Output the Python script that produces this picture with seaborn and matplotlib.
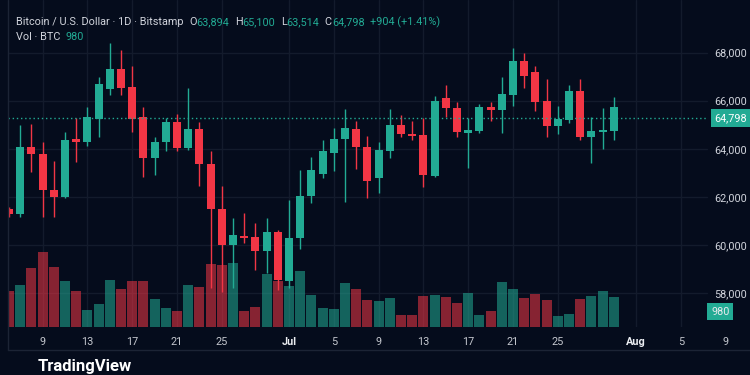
import numpy as np
import pandas as pd
import matplotlib.pyplot as plt
import matplotlib.transforms as mtransforms
from matplotlib.lines import Line2D
import seaborn as sns

sns.set_theme(style='dark')
plt.rcParams['font.family'] = ['Roboto', 'DejaVu Sans']

# daily candles, Bitstamp BTC/USD, 6 Jun - 30 Jul
dates = pd.date_range('2024-06-06', '2024-07-30', freq='D')
opens = [61497, 61289, 64075, 63784, 62287, 61996, 64407, 64283, 65239, 66486,
         67318, 66570, 65322, 63617, 64283, 65114, 64033, 64823, 63368, 61497,
         60000, 60374, 60332, 59750, 60540, 58503, 60291, 62037, 62952, 63825,
         64407, 64823, 64075, 62786, 63908, 64989, 64615, 64574, 62869, 66112,
         65696, 64657, 64740, 65738, 65613, 66237, 67651, 67193, 65987, 64948,
         65197, 66403, 64491, 64698, 64740]
highs = [61580, 64989, 65031, 64283, 63493, 64698, 65281, 65738, 66985, 68399,
         68108, 67443, 65738, 64491, 65281, 65447, 66528, 65114, 63908, 62453,
         61123, 61330, 60915, 61123, 60624, 61871, 63118, 63659, 64366, 64865,
         65655, 65156, 64532, 64283, 65655, 65405, 65156, 65281, 66195, 66653,
         65946, 65281, 65863, 65946, 66985, 68191, 67983, 67443, 66902, 65780,
         66653, 66902, 65322, 65696, 66154]
lows = [61164, 61164, 63035, 61164, 61164, 61954, 63451, 64116, 64491, 66237,
        66237, 64698, 62827, 62910, 63908, 63908, 63950, 62453, 58212, 58046,
        58212, 60083, 58960, 58836, 58129, 58212, 59834, 61746, 62786, 63077,
        61788, 63160, 61954, 62162, 63617, 64491, 64366, 62412, 62827, 65322,
        64491, 63202, 64657, 65156, 64657, 65780, 66528, 65572, 64491, 64615,
        65073, 64366, 63409, 63992, 64366]
closes = [61289, 64075, 63784, 62287, 61996, 64366, 64283, 65322, 66694, 67318,
          66528, 65239, 63617, 64283, 65114, 64033, 64823, 63368, 61497, 60000,
          60416, 60291, 59750, 60540, 58545, 60291, 62037, 63118, 63908, 64407,
          64865, 64075, 62661, 63950, 64989, 64615, 64532, 62910, 65987, 65696,
          64698, 64782, 65738, 65613, 66278, 67651, 67027, 65946, 64948, 65239,
          66403, 64491, 64740, 64782, 65738]
volumes = [1180, 1400, 1960, 2475, 1980, 1510, 1190, 575, 770, 1540,
           1255, 1510, 1510, 915, 615, 540, 1400, 1320, 2090, 2035,
           2110, 520, 650, 1760, 1520, 1365, 1840, 1045, 615, 605,
           1450, 1265, 880, 860, 970, 385, 385, 1015, 1045, 990,
           790, 1135, 410, 520, 1475, 1255, 970, 1100, 905, 375,
           420, 935, 1015, 1180, 980]

price_ticks = [58000, 60000, 62000, 64000, 66000, 68000]
tick_dates = ['2024-06-09', '2024-06-13', '2024-06-17', '2024-06-21', '2024-06-25',
              '2024-07-01', '2024-07-05', '2024-07-09', '2024-07-13', '2024-07-17',
              '2024-07-21', '2024-07-25', '2024-08-01', '2024-08-05', '2024-08-09']
price_line = 65280      # where the dotted last-price line is drawn
price_line_label = '64,798'
vol_label = '980'

header = [('Bitcoin / U.S. Dollar · 1D · Bitstamp', 'w', 0), ('O', 'w', 4), ('63,894', 'g', 0),
          ('H', 'w', 4), ('65,100', 'g', 0), ('L', 'w', 4), ('63,514', 'g', 0),
          ('C', 'w', 4), ('64,798', 'g', 0), ('+904 (+1.41%)', 'g', 4)]

bg = '#050c1c'
up = '#22ab94'
down = '#f23645'
grid_c = '#131b2c'
txt = '#d1d4dc'
fs = 7.8

df = pd.DataFrame({'idx': np.arange(len(dates)), 'open': opens, 'high': highs,
                   'low': lows, 'close': closes, 'vol': volumes})
df['dir'] = np.where(df['close'] >= df['open'], 'up', 'down')

W, H = 750, 375
fig = plt.figure(figsize=(7.5, 3.75), dpi=100, facecolor=bg)
rect = [8 / W, 1 - 327 / H, 742 / W, 327 / H]
vax = fig.add_axes(rect)
ax = fig.add_axes(rect)
vax.set_facecolor(bg)
ax.set_facecolor('none')

xlim = (-0.09, 66.16)
ylim = (56590, 70187)
start = dates[0]
tick_idx = [(pd.Timestamp(d) - start).days for d in tick_dates]
tick_lab = [pd.Timestamp(d).strftime('%b') if pd.Timestamp(d).day == 1 else str(pd.Timestamp(d).day)
            for d in tick_dates]

# grid sits in the back pane, below the volume bars
gtrans = mtransforms.blended_transform_factory(vax.transAxes, ax.transData)
for p in price_ticks:
    vax.plot([0, 0.942], [p, p], transform=gtrans, color=grid_c, lw=1, zorder=0)
for i in tick_idx:
    if i < 62:
        vax.axvline(i, color=grid_c, lw=1, zorder=0)

# volume pane
sns.barplot(data=df, x='idx', y='vol', hue='dir', palette={'up': up, 'down': down},
            dodge=False, width=0.9, alpha=0.55, saturation=1, errorbar=None,
            legend=False, ax=vax, linewidth=0, edgecolor='none')
vax.set_xlim(xlim)
vax.set_ylim(0, 327 * 33)
vax.set_xticks([])
vax.set_yticks([])
vax.set_xlabel('')
vax.set_ylabel('')

# candles
colors = np.where(df['dir'] == 'up', up, down)
ax.vlines(df['idx'], df['low'], df['high'], colors=colors, lw=1)
body_lo = np.minimum(df['open'], df['close'])
body_h = np.maximum(np.abs(df['close'] - df['open']), 60)
ax.bar(df['idx'], body_h, bottom=body_lo, width=0.72, color=colors, lw=0)

ax.set_xlim(xlim)
ax.set_ylim(ylim)
ax.axhline(price_line, xmax=0.942, color=up, lw=1, ls=(0, (1, 2)))

ax.set_xticks(tick_idx)
ax.set_xticklabels(tick_lab)
ax.tick_params(axis='x', length=0, pad=7, labelsize=fs, labelcolor='#c4c7ce')
for lbl in ax.get_xticklabels():
    if lbl.get_text() in ('Jul', 'Aug'):
        lbl.set_fontweight('bold')
        lbl.set_color('#eceef2')

ax.yaxis.tick_right()
ax.set_yticks(price_ticks)
ax.set_yticklabels([f'{p:,}' for p in price_ticks])
ax.tick_params(axis='y', length=0, pad=-2, labelsize=fs, labelcolor=txt)
plt.setp(ax.get_yticklabels(), ha='right')
ax.grid(False)
vax.grid(False)
for a in (ax, vax):
    for s in a.spines.values():
        s.set_visible(False)

trans = mtransforms.blended_transform_factory(ax.transAxes, ax.transData)
ax.text(1 - 3 / 742, price_line, price_line_label, transform=trans, ha='right', va='center',
        fontsize=fs, color='white',
        bbox=dict(boxstyle='square,pad=0.35', fc=up, ec='none'))
ax.text((711 - 8) / 742, (327 - 311.7) / 327, vol_label, transform=ax.transAxes,
        ha='left', va='center', fontsize=fs, color='#e8eaee',
        bbox=dict(boxstyle='square,pad=0.35', fc=up, ec='none'))

# header legend
prev = fig.text(16 / W, 1 - 22 / H, header[0][0], color=txt, fontsize=fs, va='center')
for text, c, gap in header[1:]:
    prev = ax.annotate(text, xy=(1, 0.5), xycoords=prev, xytext=(gap, 0),
                       textcoords='offset points', va='center', ha='left',
                       color=txt if c == 'w' else up, fontsize=fs, annotation_clip=False)
t = fig.text(16 / W, 1 - 37 / H, 'Vol · BTC', color=txt, fontsize=fs, va='center')
ax.annotate('980', xy=(1, 0.5), xycoords=t, xytext=(4, 0), textcoords='offset points',
            va='center', color=up, fontsize=fs, annotation_clip=False)

# pane borders and footer
fig.add_artist(Line2D([8 / W, 8 / W], [1, 1 - 350 / H], color='#1c2435', lw=1))
fig.add_artist(Line2D([8 / W, 1], [1 - 350 / H, 1 - 350 / H], color='#1c2435', lw=1))
fig.text(38 / W, 1 - 374 / H, 'TradingView', color='white', fontsize=12,
         fontweight='bold', va='bottom')

fig.savefig('out.png', dpi=100, facecolor=bg)
